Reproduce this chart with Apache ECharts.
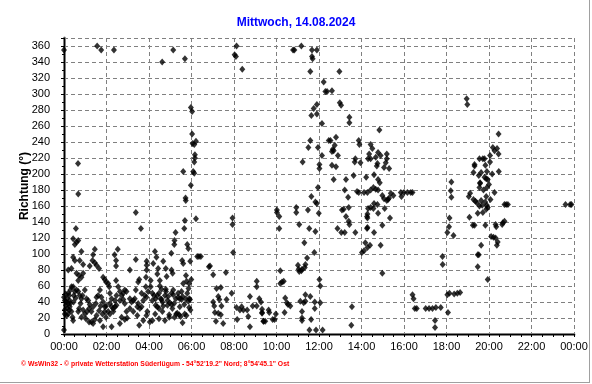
<!DOCTYPE html>
<html><head><meta charset="utf-8">
<script src="https://cdn.jsdelivr.net/npm/echarts@6/dist/echarts.min.js"></script>
<style>html,body{margin:0;padding:0;background:#fff}#c{width:592px;height:384px}</style>
</head><body><div id="c"></div>
<script>
const titleText = 'Mittwoch, 14.08.2024';
const yName = 'Richtung (°)';
const footerText = '© WsWin32 - © private Wetterstation Süderlügum - 54°52\'19.2" Nord; 8°54\'45.1" Ost';
const xMin = 0, xMax = 24, xStep = 2;
const yMin = 0, yMax = 370, yStep = 20;

// [hour of day, direction in degrees]
const d00 = [[0.0,355],[0.0,5],[0.66,213],[0.67,175],[0.56,132],[0.43,119],[0.59,115],[0.67,117],[0.51,112],[0.43,96],[0.51,92],[0.2,80],[0.35,82],[0.82,103],[0.74,92],[0.9,87],[0.59,76],[0.71,73],[0.82,71],[0.9,76],[0.67,67],[1.45,106],[1.37,99],[1.34,92],[1.45,89],[1.53,86],[1.21,85],[1.65,82],[1.84,71],[1.92,68],[1.98,65],[1.56,360],[1.75,355],
 [0.0,46],[0.04,42],[0.09,36],[0.04,30],[0.04,25],[0.12,23],[0.2,25],[0.15,32],[0.27,34],[0.2,38],[0.24,48],[0.3,55],[0.35,59],[0.43,59],[0.51,53],[0.46,48],[0.27,42],[0.35,28],[0.4,21],[0.43,17],[0.2,51],
 [0.59,55],[0.67,53],[0.74,48],[0.82,44],[0.78,38],[0.71,32],[0.9,30],[0.98,25],[0.82,21],[0.67,28],[0.87,48],[0.98,55],
 [1.06,44],[1.14,42],[1.21,37],[1.18,32],[1.09,28],[1.29,28],[1.03,19],[1.18,15],[1.29,15],[1.37,13],[1.45,18],[1.37,34],[1.5,38],[1.53,46],
 [1.61,48],[1.69,55],[1.76,46],[1.84,40],[1.72,35],[1.65,29],[1.81,25],[1.92,34],[1.98,35],[1.92,28],[1.97,21],[1.84,9],[1.69,17],[1.53,23],
 [0.1,40],[0.14,44],[0.3,38],[0.08,50],[0.25,30],[0.45,40],[0.55,45]];
const d02 = [[2.35,355],[2.53,106],[2.38,99],[2.45,92],[2.45,85],[2.45,67],[3.1,80],[3.38,93],[3.62,132],[3.38,152],[3.89,91],[3.89,86],[3.89,80],[3.86,71],
 [2.08,63],[2.13,59],[2.16,51],[2.24,44],[2.16,38],[2.24,34],[2.32,32],[2.4,34],[2.47,36],[2.32,28],[2.16,25],[2.08,28],[2.24,9],[2.4,42],[2.47,48],[2.55,59],
 [2.63,53],[2.71,48],[2.79,51],[2.86,55],[2.94,53],[2.63,42],[2.79,43],[2.71,21],[2.86,18],[2.97,20],[2.63,13],[2.94,28],[2.86,38],
 [3.1,44],[3.18,40],[3.26,42],[3.33,44],[3.1,32],[3.26,28],[3.45,34],[3.49,38],[3.38,55],[3.49,65],[3.54,68],[3.57,32],[3.45,23],[3.54,11],
 [3.65,51],[3.8,48],[3.73,42],[3.88,46],[3.96,53],[3.85,59],[3.92,28],[3.88,23],[3.73,17],[3.65,34]];
const d04 = [[4.04,15],[4.08,67],[4.08,59],[4.16,51],[4.24,48],[4.31,44],[4.39,48],[4.47,51],[4.16,42],[4.31,36],[4.39,34],[4.47,32],[4.29,25],[4.16,17],[4.47,19],[4.28,103],[4.35,96],[4.2,88],[4.43,82],[4.39,75],[4.51,67],
 [4.62,340],[4.67,91],[4.79,82],[4.83,72],[4.51,60],[4.59,56],[4.59,43],[4.67,35],[4.79,56],[4.9,47],[4.98,39],[4.95,24],[4.55,44],[4.63,40],[4.75,48],[4.8,53],[4.87,42],[4.87,36],[4.63,28],[4.75,17],[4.95,21],
 [5.14,355],[5.06,80],[5.11,76],[5.06,37],[5.14,49],[5.33,26],[5.42,24],[5.49,22],[5.05,101],[5.19,112],[5.2,117],[5.25,127],[5.06,51],[5.14,55],[5.26,44],[5.37,51],[5.37,46],[5.45,44],[5.18,38],[5.1,32],[5.28,25],[5.45,34],[5.2,21],
 [5.69,344],[5.61,203],[5.97,283],[5.97,186],[5.72,170],[5.73,167],[5.69,142],[5.66,132],[5.8,112],[5.85,107],[5.94,91],[5.56,92],[5.61,88],[5.74,73],[5.99,68],[5.89,63],[5.77,66],[5.86,57],[5.8,51],[5.89,44],[5.58,47],[5.53,53],[5.66,37],[5.58,14],[5.53,43],[5.85,41],[5.93,43],[5.89,33],[5.61,63],[5.73,44],[5.68,25],[5.76,23],[5.95,30]];
const d06 = [[6.03,278],[6.03,250],[6.05,238],[6.21,241],[6.13,237],[6.16,224],[6.16,220],[6.13,215],[6.08,203],[6.13,201],[6.21,144],[6.35,97],[6.44,97],[6.27,97],
 [6.87,85],[6.82,84],[7.02,74],[7.62,77],[7.93,145],[7.93,137],[7.96,102],[7.18,57],[7.38,58],[7.89,51],[7.26,47],[7.31,43],[7.02,40],[7.07,35],[7.1,27],[7.26,26],[7.38,24],[7.15,16],[7.49,13],[7.65,43],[7.41,35]];
const d08 = [[8.12,360],[8.03,349],[8.09,347],[8.39,331],[8.12,33],[8.28,30],[8.44,30],[8.62,30],[8.36,34],[8.88,35],[8.75,47],[8.67,22],[8.15,18],[8.75,9],
 [9.07,66],[9.07,59],[9.19,44],[9.27,40],[9.07,35],[9.32,26],[9.38,16],[9.32,31],[9.63,30],[9.66,27],[9.4,16],[9.47,16],[9.82,18],[9.91,18],[9.97,25],[9.32,27]];
const d10 = [[10.02,155],[10.02,152],[10.13,147],[10.93,158],[10.93,152],[11.48,155],[10.13,132],[11.07,137],[11.54,132],[11.83,128],[11.31,114],[11.78,102],[11.44,95],[11.36,87],[11.01,86],[11.04,81],[11.07,78],[11.17,79],[11.2,81],[11.33,83],[10.18,79],[10.26,65],[10.18,63],[10.34,66],
 [10.41,45],[10.49,39],[10.54,37],[10.65,35],[10.38,27],[11.12,41],[11.28,39],[11.36,41],[11.2,28],[11.2,20],[11.2,17],[11.36,49],[11.59,47],[11.8,40],[11.8,32],[11.63,18],[11.55,5],[11.86,5],
 [10.84,355],[10.78,355],[11.17,360],[11.67,355],[11.9,355],[11.67,347],[11.7,344],[11.59,328],[11.9,287],[11.75,282],[11.64,273],[11.9,275],[11.59,242],[11.5,233],[11.95,233],[11.23,215],[11.64,172],[11.83,165],[11.9,163],[11.95,183],[11.99,151]];
const d12 = [[12.02,68],[12.06,60],[12.06,39],[12.17,5],[12.02,212],[12.02,207],[12.22,315],[12.3,303],[12.38,303],[12.61,304],[12.98,289],[13.04,286],[12.14,263],[12.96,328],[13.43,271],[13.43,264],
 [12.46,242],[12.54,242],[12.8,246],[12.74,236],[12.65,231],[12.61,228],[12.69,229],[12.89,223],[12.14,223],[12.61,211],[12.8,209],[13.87,242],[13.9,237],[13.71,219],[13.68,215],[13.95,214],
 [12.69,193],[13.27,193],[13.63,198],[13.21,180],[13.37,171],[13.79,178],[13.87,177],[13.08,155],[13.16,156],[13.4,158],[13.27,147],[13.4,141],[13.43,137],[13.05,127],[13.21,127],[13.71,127],[12.87,132],[13.55,34],[13.52,11]];
const d14 = [[14.02,102],[14.12,104],[14.18,114],[14.22,196],[14.26,147],[14.26,132],
 [14.84,255],[14.43,237],[14.51,232],[14.36,225],[14.43,219],[14.31,219],[14.78,227],[14.9,223],[15.19,225],[15.19,219],[15.14,214],[15.3,207],[15.06,208],[14.67,221],[14.75,213],[14.72,210],[14.59,199],
 [14.78,193],[14.86,189],[14.56,183],[14.67,181],[14.43,180],[14.28,177],[14.12,177],[14.78,180],[14.98,173],[15.06,169],[15.19,167],[15.3,170],[15.38,176],[15.5,173],[15.25,168],[15.85,177],[15.88,172],
 [14.59,163],[14.75,162],[14.43,158],[14.31,157],[14.56,157],[15.09,157],[14.78,151],[14.28,150],[14.28,145],[15.34,145],[14.98,136],[14.28,133],[14.59,127],[14.4,111],[14.28,108],[14.9,111],[14.98,76]];
const d16 = [[16.0,177],[16.16,177],[16.32,177],[16.4,177],[16.4,49],[16.45,44],[16.51,32],[16.6,32],[17.02,32],[17.18,32],[17.34,32],[17.5,33],[17.73,33],[17.46,17],[17.46,8],[17.81,97],[17.82,87]];
const d18 = [[18.07,27],[18.04,49],[18.14,51],[18.36,50],[18.51,51],[18.64,52],[18.23,190],[18.2,179],[18.23,171],[18.14,145],[18.12,134],[18.04,127],[18.33,123],[18.95,294],[18.98,287],[19.05,172],[19.08,146],
 [19.55,219],[19.71,219],[19.79,219],[19.32,212],[19.32,210],[19.83,211],[19.27,202],[19.63,202],[19.9,203],[19.52,198],[19.79,196],[19.87,194],[19.94,193],[19.58,189],[19.58,188],[19.55,183],[19.74,180],[19.9,183],
 [19.11,176],[19.27,168],[19.36,166],[19.43,164],[19.63,167],[19.87,172],[19.82,165],[19.9,161],[19.94,158],[19.87,156],[19.68,161],[19.55,160],[19.71,152],[19.47,151],
 [19.24,136],[19.32,136],[19.83,136],[19.63,111],[19.47,99],[19.52,99],[19.47,84],[19.94,68]];
const d20 = [[20.45,250],[20.18,233],[20.38,232],[20.26,229],[20.45,225],[20.05,223],[20.05,215],[20.46,203],[20.15,200],[20.0,187],[20.26,177],[20.07,168],
 [20.73,162],[20.81,162],[20.89,162],[20.31,137],[20.34,134],[20.62,137],[20.73,141],[20.65,139],[20.1,122],[20.21,121],[20.31,120],[20.41,115],[20.37,111]];
const d22 = [[23.6,162],[23.82,162],[23.88,162]];

const points = [].concat(d00, d02, d04, d06, d08, d10, d12, d14, d16, d18, d20, d22);
const FONT = '"Liberation Sans", Arial, sans-serif';
const pad = n => (n < 10 ? '0' : '') + n;

const chart = echarts.init(document.getElementById('c'), null, {renderer: 'canvas'});
chart.setOption({
  animation: false,
  backgroundColor: '#ffffff',
  title: {text: titleText, left: 'center', top: 17, padding: 0,
    textStyle: {color: '#0000ff', fontSize: 12, fontWeight: 'bold', fontFamily: FONT}},
  grid: {left: 64, right: 18, top: 38, bottom: 50},
  xAxis: [{
    type: 'value', min: xMin, max: xMax, interval: xStep, offset: 2,
    axisLine: {lineStyle: {color: '#808080', width: 3}},
    axisTick: {length: 3, lineStyle: {color: '#000'}},
    minorTick: {show: true, splitNumber: 4, length: 3, lineStyle: {color: '#000'}},
    axisLabel: {formatter: v => pad(v % 24) + ':00', color: '#000', fontSize: 11, fontFamily: FONT, margin: 5},
    splitLine: {show: true, lineStyle: {type: [4, 3], color: '#808080', width: 1}}
  }, {
    type: 'value', position: 'top', min: xMin, max: xMax,
    axisLine: {show: true, lineStyle: {color: '#000', width: 1}},
    axisTick: {show: false}, axisLabel: {show: false}, splitLine: {show: false}
  }],
  yAxis: [{
    type: 'value', min: yMin, max: yMax, interval: yStep, offset: 4,
    name: yName, nameLocation: 'middle', nameGap: 29, nameRotate: 90, nameMoveOverlap: false,
    nameTextStyle: {color: '#000', fontSize: 12, fontWeight: 'bold', fontFamily: FONT},
    axisLine: {show: true, lineStyle: {color: '#808080', width: 3}},
    axisTick: {show: true, length: 3, lineStyle: {color: '#000'}},
    minorTick: {show: true, splitNumber: 2, length: 2, lineStyle: {color: '#000'}},
    axisLabel: {showMaxLabel: false, color: '#000', fontSize: 11, fontFamily: FONT, margin: 10},
    splitLine: {show: true, lineStyle: {type: [4, 3], color: '#808080', width: 1}}
  }, {
    type: 'value', position: 'right', min: yMin, max: yMax,
    axisLine: {show: true, lineStyle: {color: '#000', width: 1}},
    axisTick: {show: false}, axisLabel: {show: false}, splitLine: {show: false}
  }],
  series: [{
    type: 'scatter', data: points, symbol: 'diamond', symbolSize: [6, 7],
    itemStyle: {color: '#000'}, silent: true
  }],
  graphic: [
    {type: 'text', left: 21, top: 361, style: {text: footerText, fill: '#ff0000', font: 'bold 6.8px ' + FONT}},
    {type: 'line', shape: {x1: 589.5, y1: 0, x2: 589.5, y2: 383}, style: {stroke: '#a0a0a0', lineWidth: 1}},
    {type: 'line', shape: {x1: 0, y1: 382.5, x2: 590, y2: 382.5}, style: {stroke: '#a0a0a0', lineWidth: 1}}
  ]
});
</script></body></html>
